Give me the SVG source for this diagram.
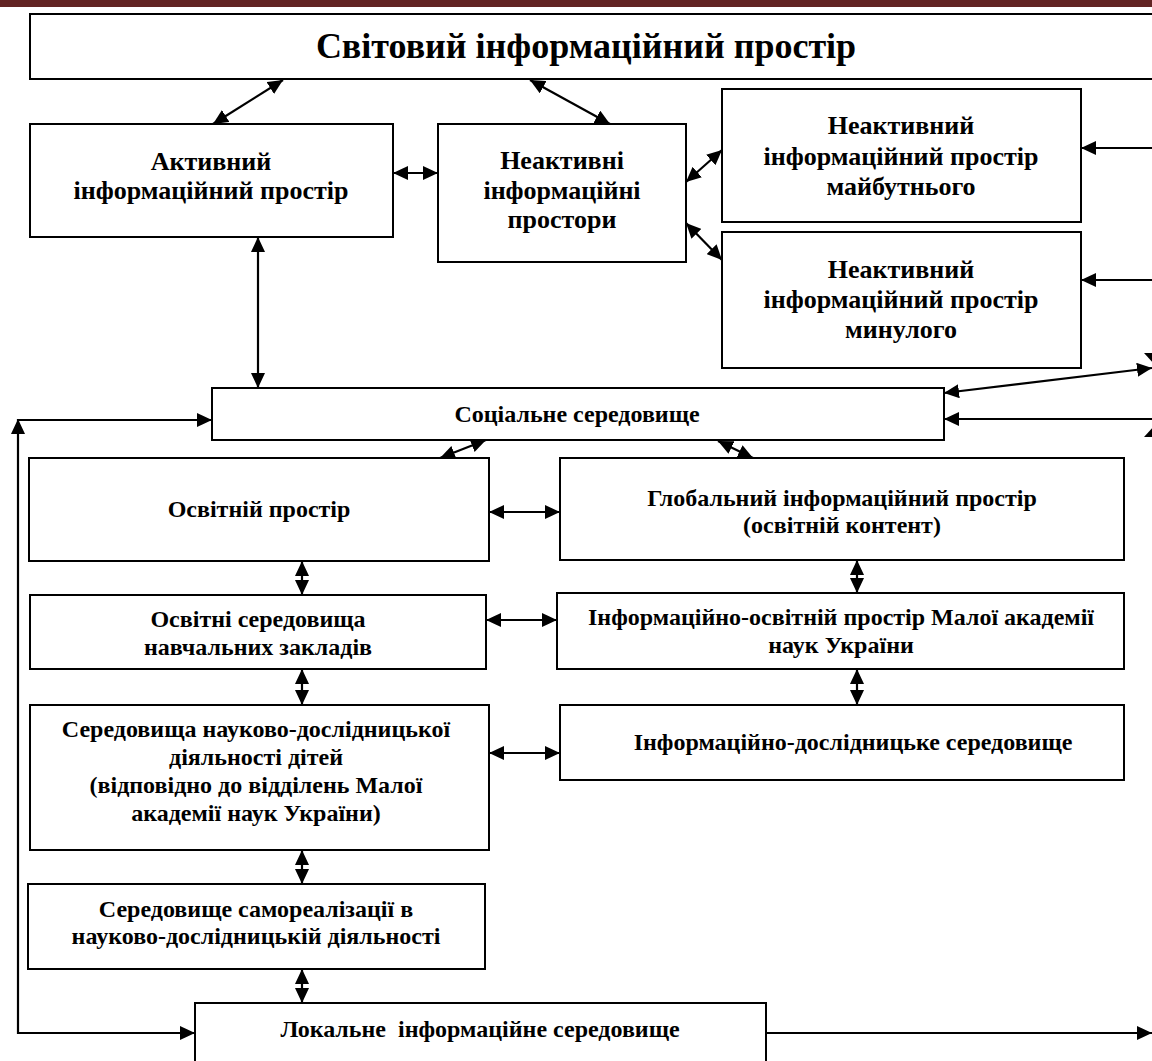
<svg xmlns="http://www.w3.org/2000/svg" width="1152" height="1061" viewBox="0 0 1152 1061">
  <defs>
    <marker id="ah" viewBox="0 0 15 14" refX="15" refY="7" markerWidth="15" markerHeight="14" markerUnits="userSpaceOnUse" orient="auto-start-reverse">
      <path d="M0,0 L15,7 L0,14 z" fill="#000"/>
    </marker>
    <style>
      .box { fill: #fff; stroke: #000; stroke-width: 2; }
      .t { font-family: "Liberation Serif", "Times New Roman", serif; font-weight: bold; fill: #000; text-anchor: middle; }
      .big { font-size: 26px; }
      .mid { font-size: 24px; }
      .c { fill: none; stroke: #000; stroke-width: 2.2; }
      .d { marker-start: url(#ah); marker-end: url(#ah); }
      .e { marker-end: url(#ah); }
    </style>
  </defs>
  <rect width="1152" height="1061" fill="#fff"/>
  <rect x="0" y="0" width="1152" height="7" fill="#622423"/>

  <g id="n_world">
    <rect class="box" x="30" y="14" width="1135" height="65"/>
    <text class="t" x="586" y="58" font-size="36">Світовий інформаційний простір</text>
  </g>
  <g id="n_active">
    <rect class="box" x="30" y="124" width="363" height="113"/>
    <text class="t big" x="211" y="170">Активний</text>
    <text class="t big" x="211" y="199">інформаційний простір</text>
  </g>
  <g id="n_inactive">
    <rect class="box" x="438" y="124" width="248" height="138"/>
    <text class="t big" x="562" y="169">Неактивні</text>
    <text class="t big" x="562" y="199">інформаційні</text>
    <text class="t big" x="562" y="228">простори</text>
  </g>
  <g id="n_future">
    <rect class="box" x="722" y="89" width="359" height="133"/>
    <text class="t big" x="901" y="134">Неактивний</text>
    <text class="t big" x="901" y="165">інформаційний простір</text>
    <text class="t big" x="901" y="195">майбутнього</text>
  </g>
  <g id="n_past">
    <rect class="box" x="722" y="232" width="359" height="136"/>
    <text class="t big" x="901" y="278">Неактивний</text>
    <text class="t big" x="901" y="308">інформаційний простір</text>
    <text class="t big" x="901" y="338">минулого</text>
  </g>
  <g id="n_social">
    <rect class="box" x="212" y="388" width="732" height="52"/>
    <text class="t mid" x="577" y="422">Соціальне середовище</text>
  </g>
  <g id="n_edu">
    <rect class="box" x="29" y="458" width="460" height="103"/>
    <text class="t mid" x="259" y="517">Освітній простір</text>
  </g>
  <g id="n_global">
    <rect class="box" x="560" y="458" width="564" height="102"/>
    <text class="t mid" x="842" y="506">Глобальний інформаційний простір</text>
    <text class="t mid" x="842" y="533">(освітній контент)</text>
  </g>
  <g id="n_edu_env">
    <rect class="box" x="30" y="595" width="456" height="74"/>
    <text class="t mid" x="258" y="627">Освітні середовища</text>
    <text class="t mid" x="258" y="655">навчальних закладів</text>
  </g>
  <g id="n_info_edu">
    <rect class="box" x="557" y="593" width="567" height="76"/>
    <text class="t mid" x="841" y="625">Інформаційно-освітній простір Малої академії</text>
    <text class="t mid" x="841" y="653">наук України</text>
  </g>
  <g id="n_research">
    <rect class="box" x="30" y="705" width="459" height="145"/>
    <text class="t mid" x="256" y="737">Середовища науково-дослідницької</text>
    <text class="t mid" x="256" y="765">діяльності дітей</text>
    <text class="t mid" x="256" y="793">(відповідно до відділень Малої</text>
    <text class="t mid" x="256" y="821">академії наук України)</text>
  </g>
  <g id="n_info_research">
    <rect class="box" x="560" y="705" width="564" height="75"/>
    <text class="t mid" x="853" y="750">Інформаційно-дослідницьке середовище</text>
  </g>
  <g id="n_selfreal">
    <rect class="box" x="28" y="884" width="457" height="85"/>
    <text class="t mid" x="256" y="917">Середовище самореалізації в</text>
    <text class="t mid" x="256" y="944">науково-дослідницькій діяльності</text>
  </g>
  <g id="n_local">
    <rect class="box" x="195" y="1003" width="571" height="70"/>
    <text class="t mid" x="480" y="1037" xml:space="preserve">Локальне  інформаційне середовище</text>
  </g>

  <g id="connectors">
    <line class="c d" x1="283" y1="80" x2="213" y2="124"/>
    <line class="c d" x1="530" y1="80" x2="610" y2="124"/>
    <line class="c d" x1="393" y1="173" x2="438" y2="173"/>
    <line class="c d" x1="686" y1="182" x2="722" y2="150"/>
    <line class="c d" x1="686" y1="223" x2="722" y2="260"/>
    <line class="c e" x1="1152" y1="148" x2="1081" y2="148"/>
    <line class="c e" x1="1152" y1="280" x2="1081" y2="280"/>
    <line class="c d" x1="258" y1="237" x2="258" y2="388"/>
    <line class="c d" x1="944" y1="393" x2="1152" y2="368"/>
    <line class="c e" x1="1152" y1="419" x2="944" y2="419"/>
    <line class="c e" x1="18" y1="1033" x2="195" y2="1033"/>
    <line class="c e" x1="18" y1="1034" x2="18" y2="419"/>
    <line class="c e" x1="17" y1="420" x2="212" y2="420"/>
    <line class="c d" x1="486" y1="440" x2="440" y2="458"/>
    <line class="c d" x1="718" y1="441" x2="753" y2="458"/>
    <line class="c d" x1="489" y1="512" x2="560" y2="512"/>
    <line class="c d" x1="302" y1="561" x2="302" y2="595"/>
    <line class="c d" x1="857" y1="560" x2="857" y2="593"/>
    <line class="c d" x1="486" y1="620" x2="557" y2="620"/>
    <line class="c d" x1="302" y1="669" x2="302" y2="705"/>
    <line class="c d" x1="857" y1="669" x2="857" y2="705"/>
    <line class="c d" x1="489" y1="753" x2="560" y2="753"/>
    <line class="c d" x1="302" y1="850" x2="302" y2="884"/>
    <line class="c d" x1="302" y1="969" x2="302" y2="1003"/>
    <line class="c e" x1="766" y1="1033" x2="1152" y2="1033"/>
    <path d="M1144,353 L1168,353 L1156,366 z" fill="#000"/>
    <path d="M1144,437 L1168,437 L1156,424 z" fill="#000"/>
  </g>
</svg>
